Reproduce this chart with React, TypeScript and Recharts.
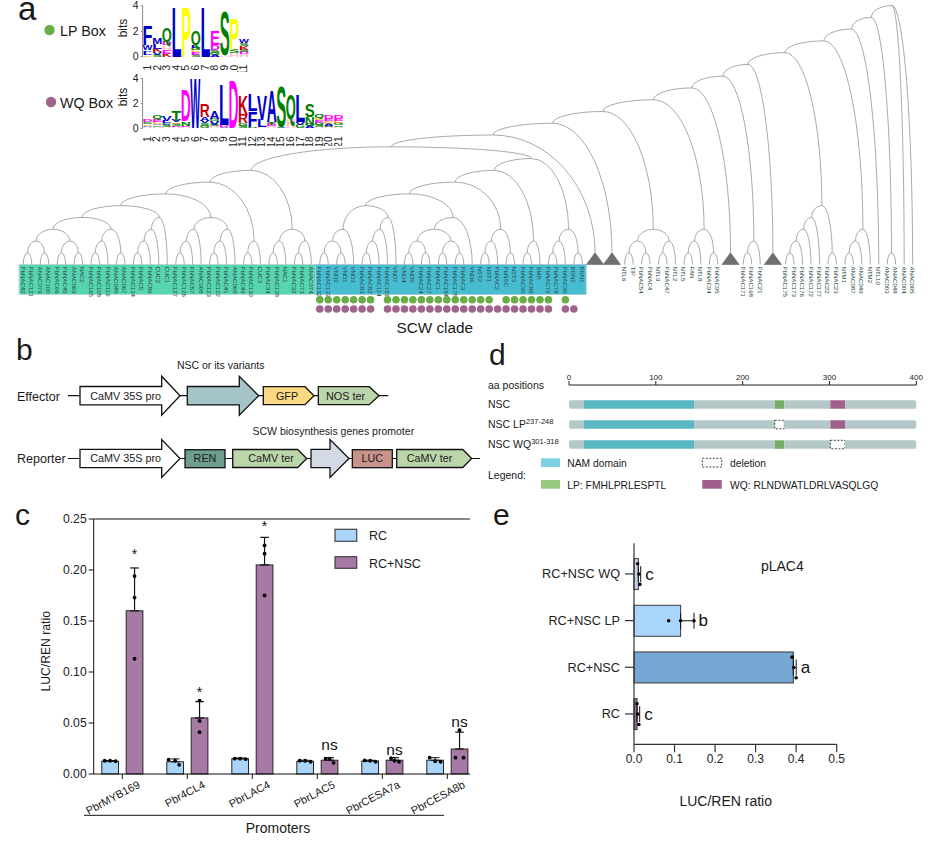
import React from 'react';
import {
  BarChart, Bar, XAxis, YAxis, ErrorBar, Cell, ScatterChart, Scatter, ReferenceArea, ReferenceLine, Surface,
} from 'recharts';

const FONT = '"Liberation Sans", Arial, sans-serif';

/* ---------- panel a: tree topology ---------- */
type T = string | T[];
const TRI = '^';
const nacA: T = [[[['PbNAC42', 'PbNAC121'], ['ANAC079', 'ANAC100']], [['PbNAC66', 'PbNAC45'], ['ANAC069', 'NAC2']]],
  [[['PbNAC165', 'PbNAC108'], 'PbNAC116'], ['ANAC045', 'ANAC067']]];
const cucA: T = [[[['PbNAC134', 'PbNAC5'], 'PbNAC86'], 'CUC2'], 'CUC1'];
const nacB: T = [[[['PbNAC127', 'PbNAC126'], 'PbNAC57'], 'ANAC008'], [[['PbNAC123', 'PbNAC122'], 'PbNAC41'], 'ANAC068']];
const cucB: T = [['PbNAC49', 'PbNAC139'], 'CUC3'];
const nacC: T = [[['PbNAC34', 'PbNAC138'], 'NAC1'], [['PbNAC32', 'PbNAC73'], 'ANAC074']];
const greenClade: T = [[[[nacA, cucA], nacB], cucB], nacC];
const vndA: T = [[['PbNAC132', 'PbNAC133'], ['VND2', 'VND1']], 'VND3'];
const vndB: T = [[[['PbNAC83', 'PbNAC82'], 'PbNAC114'], 'PbNAC181'], 'VND7'];
const vndC: T = [[[['VND4', 'VND5'], ['PbNAC24', 'PbNAC27']], [['PbNAC1', 'PbNAC184'], ['PbNAC178', 'PbNAC3']]], 'VND6'];
const nstA: T = [[['NST2', 'NST1'], 'PbNAC2'], ['PbNSC', 'NST3']];
const smbA: T = [['PbNAC35', 'PbNAC88'], 'SMB'];
const brnA: T = [[['PbNAC79', 'PbNAC78'], 'PbNAC30'], ['BRN2', 'BRN1']];
const scwClade: T = [[[[[vndA, vndB], vndC], nstA], smbA], brnA];
const ntlA: T = [[['NTL6', 'TIP'], ['PbNAC54', 'PbNAC4']], [['NTL9', 'PbNAC47'], 'NTL2']];
const ntlB: T = [[['NTL5', 'FAN'], 'NTL8'], ['PbNAC94', 'PbNAC95']];
const pbC: T = [['PbNAC171', 'PbNAC168'], 'PbNAC21'];
const pbD: T = [[[[['PbNAC175', 'PbNAC173'], 'PbNAC176'], 'PbNAC172'], 'PbNAC177'], ['PbNAC22', 'PbNAC23']];
const ntmA: T = [[['NTM1', 'ANAC087'], 'ANAC049'], 'NTM2'];
const fullTree: T = [[[[[[[[[[[[[greenClade, scwClade], TRI], TRI], ntlA], ntlB], TRI], pbC], TRI], pbD], ntmA], 'NTL10'], ['ANAC003', 'ANAC048']], 'ANAC004', 'ANAC005'];

const lpLeaves = ['PbNAC132','PbNAC133','VND2','VND1','VND3','PbNAC83','PbNAC82','PbNAC181','VND7','VND4','VND5','PbNAC24','PbNAC27','PbNAC1','PbNAC184','PbNAC178','PbNAC3','VND6','NST2','NST1','PbNSC','NST3','PbNAC35','PbNAC88','SMB','PbNAC79','PbNAC30'];
const wqLeaves = ['PbNAC132','PbNAC133','VND2','VND1','VND3','PbNAC83','PbNAC82','PbNAC181','VND7','VND4','VND5','PbNAC24','PbNAC27','PbNAC1','PbNAC184','PbNAC178','PbNAC3','VND6','NST2','NST1','PbNAC2','PbNSC','NST3','PbNAC35','PbNAC88','SMB','PbNAC79','PbNAC30','BRN2'];

type N = { x: number; y: number; px?: number; py?: number; name?: string; tri?: boolean };
const treeNodes: N[] = [];
let cursor = 0;
function walk(t: T): N {
  let n: N;
  if (typeof t === 'string') {
    if (t === TRI) { n = { x: cursor + 0.5, y: 1, tri: true }; cursor += 2; }
    else { n = { x: cursor, y: 0, name: t }; cursor += 1; }
  } else {
    const kids = t.map(walk);
    n = { x: (kids[0].x + kids[kids.length - 1].x) / 2, y: 1 + Math.max(...kids.map((k) => k.y)) };
    kids.forEach((k) => { k.px = n.x; k.py = n.y; });
  }
  treeNodes.push(n);
  return n;
}
walk(fullTree);
const LEAF_PX = 8.47;
const LEVEL_PX = 11.77;
const lpRow = treeNodes.filter((n) => n.name && lpLeaves.includes(n.name)).map((n) => ({ x: n.x, y: -3.0 }));
const wqRow = treeNodes.filter((n) => n.name && wqLeaves.includes(n.name)).map((n) => ({ x: n.x, y: -3.78 }));

const TreeMark = (p: any) => {
  const d: N = p.payload;
  const cx = p.cx, cy = p.cy;
  const out: any[] = [];
  if (d.px !== undefined) {
    const tx = cx + (d.px - d.x) * LEAF_PX;
    const ty = cy - ((d.py as number) - d.y) * LEVEL_PX;
    const rx = Math.abs(tx - cx), ry = Math.abs(ty - cy);
    out.push(<path key="l" d={`M${cx} ${cy}A${rx} ${ry} 0 0 ${tx > cx ? 1 : 0} ${tx} ${ty}`} fill="none" stroke="#858585" strokeWidth={0.7} />);
  }
  if (d.tri) out.push(<polygon key="t" points={`${cx},${cy} ${cx - 8.6},${cy + LEVEL_PX} ${cx + 8.6},${cy + LEVEL_PX}`} fill="#707070" stroke="#5c5c5c" strokeWidth={0.5} />);
  if (d.name) out.push(<text key="n" transform={`rotate(90 ${cx} ${cy + 2})`} x={cx} y={cy + 2} fontSize={6.1} dominantBaseline="central" fill="#2c4a48" fontFamily={FONT}>{d.name}</text>);
  return <g>{out}</g>;
};

/* ---------- panel a: sequence logos (letters bottom to top, bits) ---------- */
type LP = [string, number][];
const lpLogo: LP[] = [
  [['C', 0.1], ['L', 0.3], ['V', 0.1], ['W', 0.4], ['F', 1.6]],
  [['S', 0.15], ['V', 0.2], ['K', 0.25], ['L', 0.4], ['M', 0.5]],
  [['K', 0.25], ['E', 0.3], ['H', 0.35], ['D', 0.25], ['Q', 1.1]],
  [['L', 3.98]],
  [['P', 3.98]],
  [['S', 0.15], ['E', 0.2], ['C', 0.15], ['G', 0.2], ['L', 0.2], ['Q', 1.1]],
  [['L', 3.98]],
  [['A', 0.15], ['G', 0.15], ['S', 0.2], ['D', 0.4], ['E', 1.1]],
  [['H', 0.1], ['S', 3.5]],
  [['H', 0.3], ['S', 0.25], ['P', 2.5]],
  [['H', 0.2], ['D', 0.15], ['S', 0.15], ['K', 0.35], ['S', 0.2], ['W', 0.25]],
];
const wqLogo: LP[] = [
  [['H', 0.12], ['A', 0.1], ['C', 0.1], ['S', 0.12], ['G', 0.1], ['D', 0.15]],
  [['H', 0.12], ['G', 0.12], ['A', 0.12], ['C', 0.15], ['E', 0.2], ['Q', 0.35]],
  [['H', 0.1], ['S', 0.15], ['A', 0.1], ['G', 0.1], ['L', 0.15], ['V', 0.4]],
  [['H', 0.1], ['E', 0.1], ['S', 0.15], ['C', 0.12], ['V', 0.15], ['T', 0.85]],
  [['H', 0.1], ['E', 0.1], ['N', 0.35], ['D', 2.5]],
  [['W', 3.98]],
  [['G', 0.2], ['S', 0.2], ['V', 0.2], ['A', 0.3], ['R', 1.0]],
  [['H', 0.15], ['S', 0.15], ['V', 0.3], ['G', 0.15], ['A', 0.6]],
  [['V', 0.1], ['D', 0.15], ['L', 3.3]],
  [['D', 3.9]],
  [['S', 0.15], ['G', 0.25], ['R', 0.7], ['K', 1.6]],
  [['N', 0.1], ['F', 1.3], ['L', 1.4]],
  [['H', 0.1], ['L', 0.6], ['V', 2.0]],
  [['H', 0.15], ['D', 0.15], ['T', 0.2], ['A', 2.5]],
  [['V', 0.1], ['S', 3.3]],
  [['H', 0.75], ['Q', 2.0]],
  [['G', 0.3], ['V', 0.2], ['L', 2.2]],
  [['A', 0.15], ['G', 0.15], ['N', 0.6], ['S', 1.0]],
  [['H', 0.1], ['S', 0.15], ['G', 0.2], ['E', 0.2], ['C', 0.2], ['Q', 0.3]],
  [['H', 0.1], ['S', 0.12], ['A', 0.15], ['C', 0.2], ['E', 0.2], ['D', 0.3]],
  [['H', 0.12], ['S', 0.12], ['G', 0.2], ['C', 0.15], ['E', 0.15], ['D', 0.35]],
];
const residueColor: Record<string, string> = {
  L: '#0000c8', F: '#0000c8', M: '#0000c8', V: '#0000c8', A: '#0000c8', W: '#0000c8',
  T: '#008000', S: '#008000', Q: '#008000', N: '#008000', G: '#008000',
  P: '#ffff00', E: '#ff00ff', D: '#ff00ff', K: '#cc0000', R: '#cc0000', H: '#ffc0cb', C: '#ffa500',
};
const SLOTS = [0, 1, 2, 3, 4, 5];
const logoRows = (logo: LP[]) => logo.map((col, i) => {
  const row: any = { pos: i + 1 };
  SLOTS.forEach((s) => { row[`v${s}`] = col[s] ? col[s][1] : 0; row[`l${s}`] = col[s] ? col[s][0] : ''; });
  return row;
});
const letterShape = (s: number) => (p: any) => {
  const ch = p.payload[`l${s}`];
  if (!ch || !(p.height > 0)) return <g />;
  return <text x={p.x} y={p.y + p.height} fontSize={p.height / 0.716} fontWeight="bold" fontFamily={FONT} fill={residueColor[ch]} textLength={p.width} lengthAdjust="spacingAndGlyphs">{ch}</text>;
};
const LogoTick = (p: any) => (
  <text transform={`rotate(-90 ${p.x} ${p.y})`} x={p.x} y={p.y} textAnchor="end" dominantBaseline="central" fontSize={10.2} fill="#222" fontFamily={FONT}>{p.payload.value}</text>
);
const Logo = ({ logo, left, top, width, height, mt, mr, axisH }: any) => (
  <div style={{ position: 'absolute', left, top }}>
    <BarChart width={width} height={height} data={logoRows(logo)} margin={{ top: mt, right: mr, bottom: 0, left: 0 }} barCategoryGap={0}>
      <XAxis dataKey="pos" height={axisH} axisLine={false} tickLine={false} tickMargin={2} interval={0} tick={LogoTick} />
      <YAxis width={42.6} domain={[0, 4]} ticks={[0, 1, 2, 3, 4]} tickSize={2} tickMargin={2} stroke="#888" tick={{ fontSize: 10.5, fill: '#222', fontFamily: FONT }} />
      {SLOTS.map((s) => <Bar key={s} dataKey={`v${s}`} stackId="a" isAnimationActive={false} shape={letterShape(s)} />)}
    </BarChart>
  </div>
);

/* ---------- panel c ---------- */
const promoters = ['PbrMYB169', 'Pbr4CL4', 'PbrLAC4', 'PbrLAC5', 'PbrCESA7a', 'PbrCESA8b'];
const rcMean = [0.0125, 0.012, 0.015, 0.0125, 0.0127, 0.0135];
const rcTop = [0.0132, 0.0148, 0.0157, 0.0135, 0.0135, 0.016];
const nscMean = [0.16, 0.055, 0.205, 0.0135, 0.0135, 0.0245];
const nscTop = [0.202, 0.071, 0.232, 0.016, 0.016, 0.041];
const rcPoints = [[0.013, 0.013, 0.0125], [0.014, 0.013, 0.009], [0.015, 0.015, 0.0145], [0.013, 0.013, 0.012], [0.0133, 0.013, 0.012], [0.016, 0.0125, 0.012]];
const nscPoints = [[0.194, 0.173, 0.113], [0.072, 0.052, 0.041], [0.224, 0.216, 0.175], [0.015, 0.015, 0.011], [0.0155, 0.013, 0.012], [0.043, 0.016, 0.016]];
const signif = ['*', '*', '*', 'ns', 'ns', 'ns'];
const signifAt = [0.2105, 0.0755, 0.2385, 0.0235, 0.0186, 0.0464];
const rcJitter = [[-5.5, 0, 5.5], [-6.5, 0, 4], [-5.5, 0, 5.5], [-5.5, 0, 5.5], [-5.5, 0, 5.5], [-5.5, 0, 5.5]];
const nscJitter = [[0, 0, 0], [0, 0, 0], [0, 0, 0], [-4, 0, 4], [-3.5, 0, 4.5], [0, -4, 4]];
const cRows = promoters.map((name, i) => ({
  name, rc: rcMean[i], nsc: nscMean[i],
  rcErr: [0, rcTop[i] - rcMean[i]], nscErr: [0, nscTop[i] - nscMean[i]],
}));
const C_PX = 255 / 0.25;
const cBar = (fill: string, pts: number[][], jit: number[][], withSig: boolean) => (p: any) => {
  const i = p.index;
  const base = p.y + p.height;
  const mid = p.x + p.width / 2;
  const star = signif[i] === '*';
  return (
    <g>
      <rect x={p.x} y={p.y} width={p.width} height={p.height} fill={fill} stroke="#262626" strokeWidth={1} />
      {pts[i].map((v, k) => <circle key={k} cx={mid + jit[i][k]} cy={base - v * C_PX} r={1.9} fill="#000" />)}
      {withSig && <text x={mid} y={base - signifAt[i] * C_PX} textAnchor="middle" fontSize={star ? 14 : 15.5} fill="#111" fontFamily={FONT}>{signif[i]}</text>}
    </g>
  );
};
const PromoterTick = (p: any) => (
  <text transform={`rotate(-28 ${p.x + 18.5} ${p.y + 6})`} x={p.x + 18.5} y={p.y + 6} textAnchor="end" fontSize={11} fill="#222" fontFamily={FONT}>{p.payload.value}</text>
);

/* ---------- panel d ---------- */
const variants = ['NSC', 'NSC LP', 'NSC WQ'];
const segmentKeys = ['g1', 'nam', 'g2', 'lp', 'g3', 'wq', 'g4'];
const segmentLengths = [17, 127, 93, 11, 53, 17, 82];
const segmentColors = ['#b5c8c8', '#5ab8c5', '#b5c8c8', '#74ad6a', '#b5c8c8', '#a0608c', '#b5c8c8'];
const deletedSegment = [null, 'lp', 'wq'];
const dRows = variants.map((name) => {
  const row: any = { name };
  segmentKeys.forEach((k, i) => { row[k] = segmentLengths[i]; });
  return row;
});

/* ---------- panel e ---------- */
const eGroups = ['RC+NSC WQ', 'RC+NSC LP', 'RC+NSC', 'RC'];
const eMean = [0.0107, 0.115, 0.393, 0.0075];
const eTop = [0.0165, 0.148, 0.4, 0.014];
const ePoints = [[0.009, 0.012, 0.0145], [0.0855, 0.115, 0.148], [0.39, 0.394, 0.4], [0.0075, 0.009, 0.012]];
const eJitter = [[-10.3, 0, 10.3], [0, 0, 0], [-10.3, 0, 10.3], [-10.3, 0, 10.3]];
const eFills = ['#c6cef1', '#a9d5fb', '#77a8d3', '#9b6a9b'];
const eLetters = ['c', 'b', 'a', 'c'];
const eRows = eGroups.map((name, i) => ({ name, v: eMean[i], err: [0, eTop[i] - eMean[i]] }));
const E_PX = 202.7 / 0.5;
const eBar = (p: any) => {
  const i = p.index;
  const mid = p.y + p.height / 2;
  return (
    <g>
      <rect x={p.x} y={p.y} width={p.width} height={p.height} fill={eFills[i]} stroke="#3a3a3a" strokeWidth={1} />
      {ePoints[i].map((v, k) => <circle key={k} cx={p.x + v * E_PX} cy={mid + eJitter[i][k]} r={1.8} fill="#000" />)}
      <text x={p.x + eTop[i] * E_PX + 4.6} y={mid + 5.5} fontSize={17} fill="#111" fontFamily={FONT}>{eLetters[i]}</text>
    </g>
  );
};

/* ---------- panel b helpers ---------- */
const arrow = (x0: number, x1: number, xh: number, cy: number, hb: number, hh: number, fill: string, key: string) => (
  <polygon key={key} points={`${x0},${cy - hb} ${xh},${cy - hb} ${xh},${cy - hh} ${x1},${cy} ${xh},${cy + hh} ${xh},${cy + hb} ${x0},${cy + hb}`} fill={fill} stroke="#111" strokeWidth={1.3} />
);
const penta = (x0: number, x1: number, xn: number, cy: number, fill: string, key: string) => (
  <polygon key={key} points={`${x0},${cy - 9} ${xn},${cy - 9} ${x1},${cy} ${xn},${cy + 9} ${x0},${cy + 9}`} fill={fill} stroke="#111" strokeWidth={1.3} />
);
const T_ = ({ x, y, s, a, children, rot }: any) => (
  <text x={x} y={y} fontSize={s} textAnchor={a || 'start'} fill="#1a1a1a" fontFamily={FONT} transform={rot ? `rotate(${rot} ${x} ${y})` : undefined}>{children}</text>
);

export default function App() {
  return (
    <div style={{ position: 'absolute', left: 0, top: 0, width: 932, height: 843, background: '#fff', fontFamily: FONT, overflow: 'hidden' }}>
      {/* tree */}
      <div style={{ position: 'absolute', left: 0, top: 0 }}>
        <ScatterChart width={932} height={329} margin={{ top: 0, right: 0, bottom: 0, left: 0 }}>
          <XAxis type="number" dataKey="x" hide domain={[-23.3 / LEAF_PX, (932 - 23.3) / LEAF_PX]} />
          <YAxis type="number" dataKey="y" hide width={0} domain={[(264.5 - 329) / LEVEL_PX, 264.5 / LEVEL_PX]} />
          <ReferenceArea x1={-0.5} x2={34.5} y1={-2.55} y2={0} fill="#57d5b1" fillOpacity={1} stroke="#b9d9d4" />
          <ReferenceArea x1={34.5} x2={66.45} y1={-2.55} y2={0} fill="#47bdd2" fillOpacity={1} stroke="#a9c9d6" />
          <Scatter data={treeNodes} isAnimationActive={false} shape={TreeMark} />
          <Scatter data={lpRow} isAnimationActive={false} fill="#69ad47" shape={(p: any) => <circle cx={p.cx} cy={p.cy} r={3.8} fill="#69ad47" />} />
          <Scatter data={wqRow} isAnimationActive={false} fill="#a0648c" shape={(p: any) => <circle cx={p.cx} cy={p.cy} r={3.8} fill="#a0648c" />} />
        </ScatterChart>
      </div>

      <Logo logo={lpLogo} left={100} top={0} width={160} height={72} mt={5.7} mr={11.4} axisH={15.3} />
      <Logo logo={wqLogo} left={100} top={72} width={260} height={74.3} mt={6.3} mr={17} axisH={18} />

      {/* panel c */}
      <div style={{ position: 'absolute', left: 0, top: 500 }}>
        <BarChart width={480} height={343} data={cRows} margin={{ top: 19, right: 10, bottom: 19, left: 33.7 }} barSize={16.7} barGap={7.7}>
          <XAxis dataKey="name" height={50} interval={0} padding={{ left: -3.9, right: -9.8 }} tickSize={5} stroke="#111" tick={PromoterTick} />
          <YAxis width={60} domain={[0, 0.25]} ticks={[0, 0.05, 0.1, 0.15, 0.2, 0.25]} tickFormatter={(v: number) => v.toFixed(2)} tickSize={5} stroke="#111" tick={{ fontSize: 12.2, fill: '#222', fontFamily: FONT }} />
          <ReferenceLine y={0.25} stroke="#111" strokeWidth={1} />
          <Bar dataKey="rc" isAnimationActive={false} fill="#a9d5fb" shape={cBar('#a9d5fb', rcPoints, rcJitter, false)}>
            <ErrorBar dataKey="rcErr" direction="y" width={4.3} stroke="#111" strokeWidth={1} />
          </Bar>
          <Bar dataKey="nsc" isAnimationActive={false} fill="#a77aa5" shape={cBar('#a77aa5', nscPoints, nscJitter, true)}>
            <ErrorBar dataKey="nscErr" direction="y" width={4.3} stroke="#111" strokeWidth={1.2} />
          </Bar>
        </BarChart>
      </div>

      {/* panel d */}
      <div style={{ position: 'absolute', left: 560, top: 360 }}>
        <BarChart layout="vertical" width={372} height={100} data={dRows} margin={{ top: 0, right: 15.7, bottom: 5.7, left: 9 }} barSize={8.5}>
          <XAxis type="number" orientation="top" height={25} domain={[0, 400]} ticks={[0, 100, 200, 300, 400]} tickSize={4} tickMargin={1} stroke="#222" tick={{ fontSize: 8, fill: '#222', fontFamily: FONT }} />
          <YAxis type="category" dataKey="name" hide width={0} padding={{ top: 9.3, bottom: 0 }} />
          {segmentKeys.map((k, i) => (
            <Bar key={k} dataKey={k} stackId="s" isAnimationActive={false} fill={segmentColors[i]}
              radius={i === 0 ? [2, 0, 0, 2] : i === segmentKeys.length - 1 ? [0, 2, 2, 0] : 0}>
              {variants.map((_, r) => (
                deletedSegment[r] === k
                  ? <Cell key={r} fill="#fff" stroke="#111" strokeDasharray="2 1.5" strokeWidth={0.8} />
                  : <Cell key={r} fill={segmentColors[i]} />
              ))}
            </Bar>
          ))}
        </BarChart>
      </div>

      {/* panel e */}
      <div style={{ position: 'absolute', left: 490, top: 510 }}>
        <BarChart layout="vertical" width={380} height={320} data={eRows} margin={{ top: 33.3, right: 33.3, bottom: 55.7, left: 0 }} barSize={31}>
          <XAxis type="number" height={30} domain={[0, 0.5]} ticks={[0, 0.1, 0.2, 0.3, 0.4, 0.5]} tickFormatter={(v: number) => v.toFixed(1)} tickSize={8} stroke="#333" strokeWidth={1.2} tick={{ fontSize: 12, fill: '#222', fontFamily: FONT }} />
          <YAxis type="category" dataKey="name" width={144} interval={0} padding={{ top: 7.3, bottom: 7 }} tickSize={9} tickMargin={5} stroke="#333" strokeWidth={1.2} tick={{ fontSize: 12.7, fill: '#222', fontFamily: FONT }} />
          <Bar dataKey="v" isAnimationActive={false} fill="#77a8d3" shape={eBar}>
            <ErrorBar dataKey="err" direction="x" width={8} stroke="#111" strokeWidth={1} />
          </Bar>
        </BarChart>
      </div>

      {/* annotations and construct schematic */}
      <div style={{ position: 'absolute', left: 0, top: 0, pointerEvents: 'none' }}>
        <Surface width={932} height={843} viewBox={{ x: 0, y: 0, width: 932, height: 843 }}>
          <T_ x={18} y={19.5} s={33}>a</T_>
          <T_ x={16} y={360} s={30}>b</T_>
          <T_ x={15} y={525} s={30}>c</T_>
          <T_ x={489} y={365} s={30}>d</T_>
          <T_ x={493} y={525} s={30}>e</T_>

          <circle cx={49.5} cy={30} r={5.2} fill="#69ad47" />
          <T_ x={60} y={35.5} s={14.3}>LP Box</T_>
          <circle cx={51} cy={102} r={5.2} fill="#a0648c" />
          <T_ x={60} y={108} s={14.3}>WQ Box</T_>
          <T_ x={126.5} y={28} s={12} a="middle" rot={-90}>bits</T_>
          <T_ x={127} y={97} s={12} a="middle" rot={-90}>bits</T_>
          <T_ x={396.5} y={333} s={15.3}>SCW clade</T_>

          {/* b */}
          <T_ x={17} y={401} s={12.5}>Effector</T_>
          <T_ x={17} y={462.5} s={12.5}>Reporter</T_>
          <T_ x={220.7} y={369} s={10.5} a="middle">NSC or its variants</T_>
          <T_ x={333.3} y={434.5} s={10.5} a="middle">SCW biosynthesis genes promoter</T_>
          <line x1={68} x2={388.3} y1={395.7} y2={395.7} stroke="#111" strokeWidth={1.2} />
          <line x1={68} x2={480} y1={458.5} y2={458.5} stroke="#111" strokeWidth={1.2} />
          {arrow(80, 180, 161.7, 395.7, 9.2, 19.5, '#fff', 'e1')}
          {arrow(187.3, 258.7, 239.3, 395.7, 9.2, 19.5, '#a4c4c8', 'e2')}
          {penta(263.3, 314, 305, 395.7, '#fad982', 'e3')}
          {penta(318.3, 379, 369.3, 395.7, '#bcd6ac', 'e4')}
          {arrow(80, 180, 161.7, 458.5, 9.2, 19, '#fff', 'r1')}
          <rect x={185} y={449.7} width={40} height={18} fill="#6f9f8c" stroke="#111" strokeWidth={1.3} />
          {penta(232.7, 306.7, 297.7, 458.5, '#bcd6ac', 'r2')}
          {arrow(311, 349, 330, 458.5, 9.2, 19, '#d3dae5', 'r3')}
          <rect x={352.3} y={449.7} width={40} height={18} fill="#c8938a" stroke="#111" strokeWidth={1.3} />
          {penta(396.7, 471.7, 462.7, 458.5, '#bcd6ac', 'r4')}
          <T_ x={125.7} y={399.5} s={10.8} a="middle">CaMV 35S pro</T_>
          <T_ x={125.7} y={462.3} s={10.8} a="middle">CaMV 35S pro</T_>
          <T_ x={287} y={399.5} s={10.8} a="middle">GFP</T_>
          <T_ x={345.5} y={399.5} s={10.8} a="middle">NOS ter</T_>
          <T_ x={205} y={462.3} s={10.8} a="middle">REN</T_>
          <T_ x={271} y={462.3} s={10.8} a="middle">CaMV ter</T_>
          <T_ x={372.3} y={462.3} s={10.8} a="middle">LUC</T_>
          <T_ x={429.5} y={462.3} s={10.8} a="middle">CaMV ter</T_>

          {/* c */}
          <T_ x={50.5} y={651.3} s={12.2} a="middle" rot={-90}>LUC/REN ratio</T_>
          <rect x={335} y={529.3} width={21.7} height={12} fill="#a9d5fb" stroke="#444" strokeWidth={1.2} />
          <rect x={335} y={556.7} width={21.7} height={11.6} fill="#a77aa5" stroke="#444" strokeWidth={1.2} />
          <T_ x={369} y={540.3} s={12.5}>RC</T_>
          <T_ x={369} y={567.6} s={12.5}>RC+NSC</T_>
          <line x1={84} x2={444} y1={815.3} y2={815.3} stroke="#111" strokeWidth={1} />
          <T_ x={278} y={833} s={14} a="middle">Promoters</T_>

          {/* d */}
          <T_ x={488} y={389} s={10.5}>aa positions</T_>
          <T_ x={488} y={408} s={10.5}>NSC</T_>
          <T_ x={488} y={428} s={10.5}>NSC LP<tspan fontSize={7.5} dy={-4}>237-248</tspan></T_>
          <T_ x={488} y={448} s={10.5}>NSC WQ<tspan fontSize={7.5} dy={-4}>301-318</tspan></T_>
          <T_ x={488} y={479} s={10.5}>Legend:</T_>
          <rect x={541} y={458.3} width={19} height={8.7} fill="#7fd0e0" />
          <T_ x={567.3} y={466.5} s={10.3}>NAM domain</T_>
          <rect x={702.3} y={458.3} width={19.4} height={8.7} fill="#fff" stroke="#111" strokeWidth={0.8} strokeDasharray="2 1.5" />
          <T_ x={730} y={466.5} s={10.3}>deletion</T_>
          <rect x={541} y={480} width={19} height={8.7} fill="#98c97f" />
          <T_ x={567.3} y={488.5} s={10.3}>LP: FMHLPRLESPTL</T_>
          <rect x={702.3} y={480} width={19.4} height={8.7} fill="#a0608c" />
          <T_ x={730} y={488.5} s={10.3}>WQ: RLNDWATLDRLVASQLGQ</T_>

          {/* e */}
          <T_ x={782.3} y={570.5} s={14} a="middle">pLAC4</T_>
          <T_ x={725.7} y={806} s={14} a="middle">LUC/REN ratio</T_>
        </Surface>
      </div>
    </div>
  );
}
